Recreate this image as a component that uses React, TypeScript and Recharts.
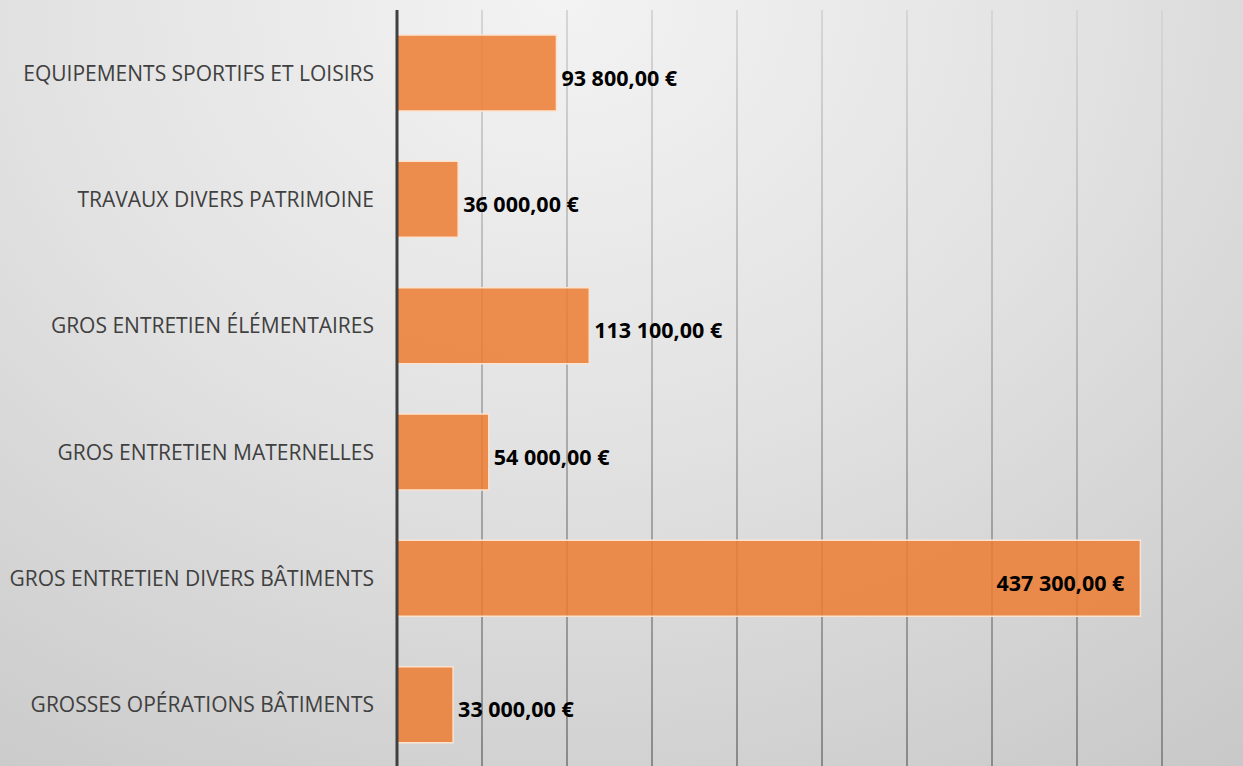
import { BarChart, Bar, XAxis, YAxis, CartesianGrid, LabelList } from "recharts";

const categories = [
  "EQUIPEMENTS SPORTIFS ET LOISIRS",
  "TRAVAUX DIVERS PATRIMOINE",
  "GROS ENTRETIEN ÉLÉMENTAIRES",
  "GROS ENTRETIEN MATERNELLES",
  "GROS ENTRETIEN DIVERS BÂTIMENTS",
  "GROSSES OPÉRATIONS BÂTIMENTS",
];
const amounts = [93800, 36000, 113100, 54000, 437300, 33000];
const xTicks = [0, 50000, 100000, 150000, 200000, 250000, 300000, 350000, 400000, 450000, 500000];

const data = categories.map((name, i) => ({ name, amount: amounts[i] }));

function formatEuro(v: number) {
  const [int, dec] = v.toFixed(2).split(".");
  return int.replace(/\B(?=(\d{3})+(?!\d))/g, " ") + "," + dec + " €";
}

function ValueLabel(props: any) {
  const { x, y, width, height, value } = props;
  const inside = value > 300000;
  return (
    <text
      x={inside ? x + width - 16 : x + width + 5}
      y={y + height / 2 + 4}
      textAnchor={inside ? "end" : "start"}
      dominantBaseline="central"
      fontFamily="'Open Sans', sans-serif"
      fontWeight={700}
      fontSize={21.5}
      fill="#000"
    >
      {formatEuro(value)}
    </text>
  );
}

export default function App() {
  return (
    <div
      style={{
        position: "absolute",
        left: 0,
        top: 0,
        width: 1243,
        height: 766,
        overflow: "hidden",
        background: "radial-gradient(ellipse 95% 130% at 45% 0%, #f3f3f3 0%, #e2e2e2 45%, #c6c6c6 100%)",
      }}
    >
      <style>{"body{margin:0}"}</style>
      <BarChart
        width={1262}
        height={770}
        data={data}
        layout="vertical"
        margin={{ top: 10, right: 15, bottom: 2, left: 0 }}
        barSize={76}
      >
        <defs>
          <linearGradient id="gridGrad" x1="0" y1="10" x2="0" y2="766" gradientUnits="userSpaceOnUse">
            <stop offset="0%" stopColor="#d6d6d6" />
            <stop offset="100%" stopColor="#8a8a8a" />
          </linearGradient>
        </defs>
        <CartesianGrid horizontal={false} stroke="url(#gridGrad)" strokeWidth={2} />
        <XAxis type="number" domain={[0, 500000]} ticks={xTicks} hide />
        <YAxis
          type="category"
          dataKey="name"
          width={397}
          axisLine={{ stroke: "#404040", strokeWidth: 3 }}
          tickLine={false}
          tickSize={0}
          tickMargin={23}
          tick={{ fill: "#404040", fontSize: 21, fontFamily: "'Open Sans', sans-serif" }}
          interval={0}
        />
        <Bar
          dataKey="amount"
          fill="#ED7D31"
          fillOpacity={0.85}
          stroke="#fbe3d2"
          strokeWidth={1.5}
          isAnimationActive={false}
        >
          <LabelList dataKey="amount" content={ValueLabel} />
        </Bar>
      </BarChart>
    </div>
  );
}
